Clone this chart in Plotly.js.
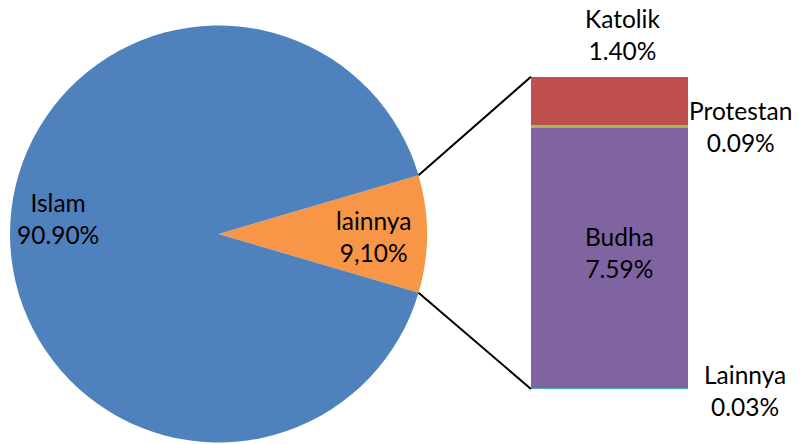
<!DOCTYPE html>
<html><head><meta charset="utf-8">
<script src="https://cdn.plot.ly/plotly-3.0.1.min.js"></script>
<style>html,body{margin:0;padding:0;background:#fff}</style>
</head><body><div id="chart" style="width:802px;height:444px"></div>
<script>
// Pie data
var pieLabels = ["lainnya", "Islam"];
var pieValues = [9.10, 90.90];
var pieText = ["9,10%", "90.90%"];
var pieColors = ["#F79646", "#4F81BD"];

// Bar-of-pie data (bottom to top)
var barLabels = ["Lainnya", "Budha", "Protestan", "Katolik"];
var barValues = [0.03, 7.59, 0.09, 1.40];
var barText = ["0.03%", "7.59%", "0.09%", "1.40%"];
var barColors = ["#4BACC6", "#8064A2", "#9BBB59", "#C0504D"];

var W = 802, H = 444;
var FONT = "Lato, 'Open Sans', sans-serif";
var FS = 24.5;
// pie geometry (pixels)
var cx = 218.5, cyTop = 234, R = 208.5;
var cyB = H - cyTop;
var pieDomX = [(cx - R) / W, (cx + R) / W];
var pieDomY = [(cyB - R) / H, (cyB + R) / H];
// bar geometry
var barDomX = [531 / W, 688 / W];
var barDomY = [(H - 389) / H, (H - 76.7) / H];

var total = barValues.reduce(function(a, b){return a + b;}, 0);
var fracOther = pieValues[0] / (pieValues[0] + pieValues[1]);
var halfAng = fracOther * Math.PI; // half of the slice angle
var halfDeg = halfAng * 180 / Math.PI;

var traces = [{
  type: "pie",
  labels: pieLabels,
  values: pieValues,
  textinfo: "none",
  hoverinfo: "label+value",
  sort: false,
  direction: "clockwise",
  rotation: 90 - halfDeg,
  marker: {colors: pieColors, line: {width: 0}},
  domain: {x: pieDomX, y: pieDomY},
  showlegend: false
}];

barLabels.forEach(function(lab, i) {
  traces.push({
    type: "bar",
    x: ["bar"],
    y: [barValues[i]],
    name: lab,
    marker: {color: barColors[i], line: {width: 0}},
    hoverinfo: "name+y",
    showlegend: false,
    xaxis: "x", yaxis: "y"
  });
});

// label placement (pixel centres, from top-left)
function ann(text, px, py) {
  return {x: px / W, y: (H - py) / H, xref: "paper", yref: "paper",
          xanchor: "center", yanchor: "middle", text: text, showarrow: false,
          align: "center", font: {family: FONT, size: FS, color: "#000"}};
}
var annotations = [
  ann(pieLabels[1] + "<br>" + pieText[1], 57.5, 219),
  ann(pieLabels[0] + "<br>" + pieText[0], 373.5, 236),
  ann(barLabels[3] + "<br>" + barText[3], 622, 34),
  ann(barLabels[2] + "<br>" + barText[2], 740.5, 127),
  ann(barLabels[1] + "<br>" + barText[1], 619.5, 252.5),
  ann(barLabels[0] + "<br>" + barText[0], 745, 390.5)
];

// connector lines from slice edges to bar corners
var pxEdge = (cx + R * Math.cos(halfAng)) / W;
var pyTop = (cyB + R * Math.sin(halfAng)) / H;
var pyBot = (cyB - R * Math.sin(halfAng)) / H;
var shapes = [
  {type: "line", xref: "paper", yref: "paper", x0: pxEdge, y0: pyTop, x1: barDomX[0], y1: barDomY[1],
   line: {color: "#000", width: 2}},
  {type: "line", xref: "paper", yref: "paper", x0: pxEdge, y0: pyBot, x1: barDomX[0], y1: barDomY[0],
   line: {color: "#000", width: 2}}
];

var layout = {
  width: W, height: H,
  margin: {l: 0, r: 0, t: 0, b: 0, pad: 0},
  paper_bgcolor: "#fff", plot_bgcolor: "rgba(0,0,0,0)",
  barmode: "stack", bargap: 0,
  xaxis: {domain: barDomX, range: [-0.5, 0.5], visible: false, fixedrange: true},
  yaxis: {domain: barDomY, range: [0, total], visible: false, fixedrange: true},
  annotations: annotations,
  shapes: shapes,
  showlegend: false,
  font: {family: FONT, size: FS, color: "#000"}
};

Plotly.newPlot("chart", traces, layout, {displayModeBar: false, staticPlot: true});
</script>
</body></html>
